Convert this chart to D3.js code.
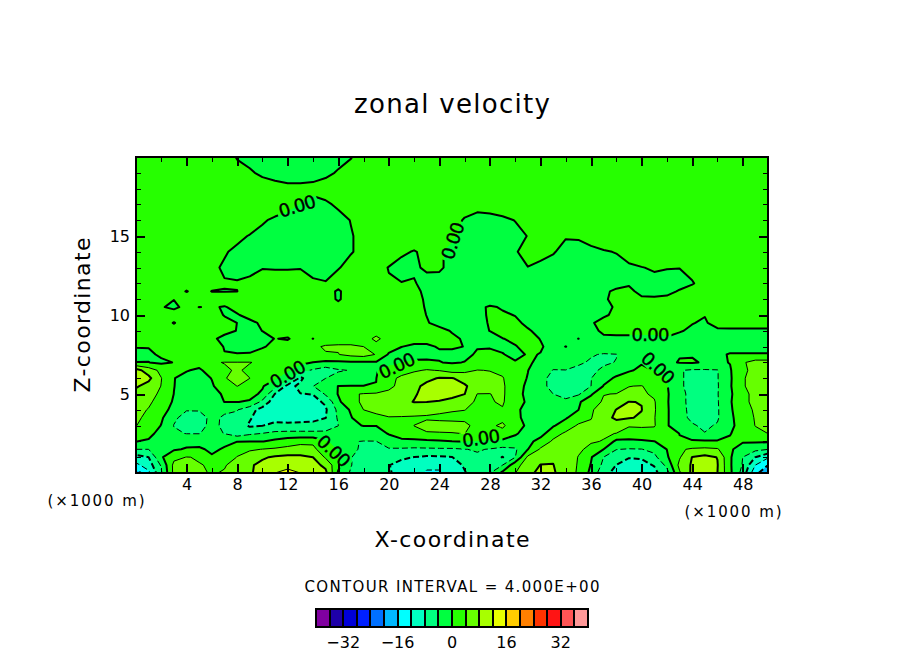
<![CDATA[<!DOCTYPE html>
<html>
<head>
<meta charset="utf-8">
<title>zonal velocity</title>
<script src="https://cdn.jsdelivr.net/npm/d3@7"></script>
<style>
  html, body { margin: 0; padding: 0; background: #fff; }
  text { font-family: "DejaVu Sans", sans-serif; fill: #000; }
</style>
</head>
<body>
<div id="chart"></div>
<script>
// x every 1 km, z levels listed top to bottom (finer below 12 km)
var xKm = d3.range(0, 51);
var zKm = [20,19,18,17,16,15,14,13,12,11.5,11,10.5,10,9.5,9,8.5,8,7.5,7,6.5,6,5.5,5,4.5,4,3.5,3,2.5,2,1.5,1,0.5,0];

// u values read off the picture, one row per entry of zKm
var uRows = [
[2,2,2,2,2,2,2,1.5,-.2,-1, -1.5,-1.5,-1.5,-1.5,-1.5,-1.5,-1,-.2,1.5,2, 2,2,2,2,2,2,2,2,2,2, 2,2,2,2,2,2,2,2,2,2, 2,2,2,2,2,2,2,2,2,2, 2],
[2,2,2,2,2,2,2,2,1,.4, -.6,-1,-1.2,-1.2,-1,-.7,.3,1.5,2,2, 2,2,2,2,2,2,2,2,2,2, 2,2,2,2,2,2,2,2,2,2, 2,2,2,2,2,2,2,2,2,2, 2],
[2,2,2,2,2,2,2,2,2,2, 1.6,1,.6,.6,.7,1.4,2,2,2,2, 2,2,2,2,2,2,2,2,2,2, 2,2,2,2,2,2,2,2,2,2, 2,2,2,2,2,2,2,2,2,2, 2],
[2,2,2,2,2,2,2,2,2,2, 2,2,.9,-.1,-.8,-.5,.5,1.5,2,2, 2,2,2,2,2,2,1,.7,.8,1.2, 1.8,2,2,2,2,2,2,2,2,2, 2,2,2,2,2,2,2,2,2,2, 2],
[2,2,2,2,2,2,2,2,2,2, .4,-.6,-1,-1.5,-1.5,-1.5,-1,.1,1.5,2, 2,2,2,2,2,.8,-.2,-.7,-.6,-.4, .05,1,2,2,2,2,2,2,2,2, 2,2,2,2,2,2,2,2,2,2, 2],
[2,2,2,2,2,2,2,2,.8,-.2, -1,-2,-2,-2,-2,-2,-1.4,-.2,.8,2, 2,2,2,2,2,.4,-.6,-1.5,-1.5,-1, -.5,.05,1,1,.2,.3,1,1.5,2,2, 2,2,2,2,2,2,2,2,2,2, 2],
[2,2,2,2,2,2,2,.3,-.7,-1.5, -2,-2,-2,-2,-2,-2,-1.4,-.2,.8,2, 1.5,.5,-.2,.7,.3,-.6,-1.2,-1.5,-1.2,-.8, -.2,.8,.8,.2,-.8,-.9,-.6,-.2,.1,.8, 2,2,2,2,2,2,2,2,2,2, 2],
[2,2,2,2,2,2,.6,-.4,-1,-.5, -.1,-.2,-.2,-.1,-1,-1.2,-.2,1,1.5,.9, -.1,-1,-.3,.3,.3,-.6,-1.5,-1.5,-1.5,-1.2, -.5,-.05,-.6,-1,-1.6,-1.6,-1.6,-1.6,-.8,-.3, -.1,.3,.1,.05,.6,1.5,2,2,2,2, 2],
[2,2,2,2,2,2,1.5,.2,.25,.4, 1,1.3,1.3,1,.5,.2,1.5,2,2,1.5, .2,.1,.15,-.65,-.8,-1.8,-1.8,-1.8,-1.8,-1.8, -1.8,-1.8,-1.8,-1.8,-1.8,-1.8,-1.6,-1,-.8,-.2, -.6,-.8,-.9,-.8,-.15,.8,2,2,2,2, 2],
[2,2,2,2,-.2,1.8,-.1,-.1,-.05,2, 2,2,2,2,1.8,1.5,-.5,1.8,2,2, 1.6,1.4,.55,-.5,-1.5,-1.8,-1.8,-1.8,-1.8,-1.8, -1.8,-1.8,-1.8,-1.8,-1.8,-1.8,-1.5,-.4,.4,.4, -.5,-.7,-.6,.2,.8,1.6,2,2,2,2, 2],
[2,2,2,.1,2,2,1.5,1.5,1.5,2, 2,2,2,2,2,1.8,-.5,2,2,2, 2,1.8,.7,-.3,-1.2,-2,-2,-2,-2,-2, -2,-2,-2,-2,-2,-1.8,-1.5,-.4,.8,1, .3,.3,.5,1,1.5,2,2,2,2,2, 2],
[2,2,.3,-.8,1.1,-.05,.3,-.2,.8,1.8, 2,2,2,2,2,2,1.5,2,2,2, 2,1.8,.8,-.2,-1,-1.8,-1.8,-.8,.4,-.3, -1.6,-2,-2,-2,-2,-2,-1.5,-.7,.3,1.2, 1.6,2,2,2,2,2,2,2,2,2, 2],
[2,2,2,2,2,2,1.6,-.2,-.2,.8, 2,2,2,2,2,2,2,2,2,2, 2,2,.95,-.05,-.8,-1.6,-1.6,-.7,.3,.4, -.1,-1.2,-2,-2,-2,-2,-1.5,-.4,.6,1.5, 2,2,2,1.5,.5,.1,1.2,2,2,2, 2],
[2,2,2,-.2,2,2,2,1,-.02,-.6, .4,1.5,2,2,2,2,2,2,2,2.5, 2,2,1,.2,-.8,-1.5,-1.5,-.8,.2,1, .6,-.6,-1.6,-2,-2,-2,-.3,.9,1.5,1.5, 2,2,1.6,.8,.1,-.3,1,1.5,1.5,1.5, 1.5],
[2,2,2,1.6,2,2,2,.9,-.1,-1, .05,.4,1.5,2,2,2.2,2.4,2.6,2.8,3, 2.6,2.2,1.4,1,.8,-.2,-1,-.8,.05,1.5, 1.5,.3,-.8,-1.8,-1.8,-1.6,-.6,.4,.5,.5, .5,.5,.6,.2,-.4,-.7,-.5,-.6,-.6,-.6, -.6],
[2,2,2,2,2,2,.6,-.9,-1.2,-1.2, -1,.1,-.3,1.7,-.05,2.4,3,3,3,4.5, 3,1.6,.8,.8,.7,.5,-.3,-.8,-1,-.1, .7,1,-.1,-1,-1.5,.03,-1.5,-.4,-.4,-.4, -.4,-.4,-.2,-.8,-1,-1,-1,-1,-1,-1, -1],
[.15,.15,1.5,2,2,2,1.3,-.15,-1.5,-1.5, -.3,.8,1.5,2,3.5,4.3,4.3,4.3,4,3.2, 1.5,.05,-.4,-.4,.2,.3,-.05,-.2,-.2,-.8, -.2,1,.3,-1,.05,-1.5,-1.5,-1.5,-1.5,-1.5, -1.5,-1.5,-1.5,-1.5,-1.5,-1.5,-1.5,-1.5,-1.5,-1.5, -1.5],
[-1,-.6,.5,2,2,2,1.5,.1,.3,.4, 1.2,2,3,3.2,3.6,3.8,3.9,5,5.5,3.8, -.4,-1,-1,-1,-.4,-.6,-.8,.4,.6,.2, -1,.3,-.1,-1.3,-1.5,-1.5,-3.7,-4.3,-4.1,-1.5, -1,-1,-1.2,-.2,-.2,-.8,-.8,.3,.3,.3, .3],
[.05,.05,-.6,.1,1.5,1.2,3.7,4.1,4.1,4.1, 3.5,2.8,2,1,-.1,-.8,-.6,-.5,-.5,-.3, -.8,-.1,.5,.6,.1,-.3,.1,1,1.5,1, .3,.6,-1,-1.8,-1.8,-3.5,-4.4,-4.4,-3.9,-2, -.2,-.8,-.8,.2,.3,-.3,-.5,.1,3.5,5.5, 5.5],
[9.5,6,3,1,.2,-.5,1.5,3.6,4.3,3.5, 2.2,1.5,.5,-2.5,-4.5,-6,-4.4,-3.8,-2.5,-.2, 1.2,2,3.5,4.3,3.8,2.5,3,4.1,3.9,3, 2,.05,-1.2,-4.2,-4.1,-4.8,-4.6,-3.5,-1.5,-.3, .5,-.1,-1,-3.8,-4.4,-4.4,-4.2,-.3,3,5.5, 5.8],
[10.5,9,4.1,.1,-1,-1.2,.1,3.9,4.5,4.02, 1.5,.5,-2,-9,-4.5,-4.05,-2.5,-1.5,-1,-.05, 2.5,5,6,7,8.3,8.2,6.5,5.5,4.8,4.3, .9,-.1,-3.5,-4.5,-5,-5.5,-4.1,-1.2,.5,1.5, 2,1,-.1,-3.5,-5,-5.5,-4.2,-.5,3.5,6, 6.5],
[8.5,6.5,3.9,.1,-1.8,-1.8,-.3,1.5,4.05,3, .3,-2.5,-9.5,-7,-4.1,-1.5,.05,.05,.05,.05, 3.2,5,7,9,10,10,8.5,6,5,4.5, 1.8,-.8,-3.7,-4.3,-5,-5.2,-4,.2,1.5,3.95, 4.1,3,.3,-3.5,-5,-5.5,-4.3,-.4,3.5,6, 6.5],
[6.5,5.5,3.2,-.05,-2,-2.2,-1,.4,.6,.9, -.5,-8.2,-10.5,-8.1,-7.9,-3.5,.2,3.6,4.2,4.5, 4.8,6,7.5,9.5,11,9,8.05,3.95,3.95,4.6, 1.2,-.8,-3,-4,-4.3,-4.5,-.6,3.9,4.1,4.5, 4.5,3.5,.5,-3,-5,-5.5,-4.2,-.6,2.8,5.2, 5.5],
[5.5,4.6,2.5,-.5,-2.5,-3,-1.5,.05,.05,-.3, -5,-10.5,-11,-10.5,-9,-7.5,-.8,3,4.5,5, 5.5,6.5,8.2,8,7.5,7,5,3.6,3.8,4.3, 2,-.7,-2.5,-3.5,-3.8,-.6,2.5,4.4,6,8.1, 7.9,4.3,.4,-3,-5,-5.4,-4.3,-.4,3,5, 5.3],
[5,3.8,1.8,-1.5,-3.85,-3.85,-2.5,-3.6,-3.8,-6.5, -9.5,-10.5,-11,-10.5,-10,-8.5,-3,.5,4,4.3, 4.4,4.6,4.8,4.5,4.3,4.1,4.02,3.7,3.5,3.8, .6,-.9,-2,-2.5,-2.2,-.05,3.6,5.5,8.1,9, 8.1,4.4,.5,-3,-4.8,-5.3,-4.4,-.5,2.2,4.6, 5],
[4.6,3.2,.6,-3.5,-5,-4.8,-3.5,-4.3,-5,-7.5, -10.5,-10,-10.5,-10,-9.5,-8.1,-3.5,-.3,3,3.7, 3.95,3.9,3.8,3.8,3.7,3.7,3.7,3.5,3.2,3.2, .8,-1,-1.5,-1.3,-.4,2.2,3.8,6.8,8.6,8.3, 7.5,4.2,.5,-3,-4.6,-5,-4.4,-.7,1.8,4.3, 4.7],
[4.1,2.5,-.15,-4.1,-5.2,-5,-3.2,-4.6,-5.5,-8.6, -8.1,-6.5,-6.5,-6.5,-6.5,-6,-4.05,-.5,.1,.05, 1.2,2,4.01,4.5,4.5,4.4,4.3,3.6,3.5,4.5, 2,-.8,-.9,-.4,2,4.5,4.7,5,6.5,4.2, 4.3,4.3,.4,-2.5,-3.7,-4.5,-3.7,-.8,1.5,4.1, 4.4],
[2.5,1.2,-1.5,-3.5,-4.1,-4.1,-3,-4.1,-6,-4.6, -3.9,-3.2,-3,-3,-3,-3.1,-2.5,-2,-2,-1.2, .2,1.5,3.8,3.85,3.9,3.95,4.02,3.3,2.5,3, .3,-1,-1.5,2.5,4.6,5,5,4.5,3.9,3, 3,2.5,1.5,-.05,-2.5,-3.9,-2.8,-.1,1,3, 4.02],
[.05,-.5,-2,-1.5,-1,-1,-1.5,-.7,-.1,-.1, -.1,1,2.2,3,3,.4,-1,-3.8,-4.1,-4.1, -1.5,-.8,-1.4,-.8,-.5,-.1,.1,-.1,-.5,-1, -1,-1.2,1.5,4.6,5.5,5,4.4,3.8,-1,-1.2, -.6,-.05,1,.2,.5,.5,.4,.3,.3,.5, .5],
[-4,-4,-1,-.4,.3,.4,-.5,.3,3,3.5, 4.1,4.5,5,5.5,5.2,1,-.2,-3,-4.8,-4.8, -4.4,-4.5,-4.6,-4.6,-4.5,-4.5,-4.1,-3.7,-4.2,-5, -4.6,-.1,4.5,6,6,4.8,2.8,-.05,-3.9,-4.2, -4.1,-3,.05,3.5,4.5,4.8,4.4,.5,-1.5,-3, -3.9],
[-9.5,-8,-.5,3,4.1,3.8,.3,2,4.1,6, 7.5,8.5,9,8.8,8,3.5,.4,-3.8,-6,-6.5, -7,-7.5,-8.05,-8.6,-8.5,-8.1,-6,-4.5,-5.5,-8.2, -4.1,4.8,6.5,7.5,7,3.8,.3,-4.05,-6,-7.8, -7.7,-5,-.5,3.6,8.1,9,7.9,.5,-4,-8, -11.5],
[-13,-10,-3.5,5,4.5,4.1,3.8,3.9,4.5,7.5, 9,11,11.5,11,9.5,7,1,-3.8,-6.5,-7, -7.9,-9,-10.5,-11.5,-11.5,-10,-7.5,-5.5,-5,-4, 2.5,6,8.1,8.1,6,3.7,-.2,-5,-8.1,-9.5, -9,-7.8,-3,5,8.5,10,8.2,.5,-4.3,-12, -16],
[-18,-13,-4.5,5,4.8,4.2,3.9,4.1,5,7.5, 9.5,12,12.5,12,9,9,-.5,-4.5,-6.5,-7.5, -7.7,-9,-11,-12.3,-12.3,-10.5,-8.3,-6,-4.2,1, 3.9,7,9,8.5,6,3.5,-1,-7,-9,-10.5, -11,-9,-5.5,3.5,8.8,11,8,.8,-5.5,-15, -19]
];

// contour levels and the fill for the band starting at each level
var levels = d3.range(-40, 40, 4);
var bandColors = ["#8000a0","#1e00a8","#0000d8","#0020ff","#0070ff","#00b8ff","#00ffff","#00ffc0","#00ff80","#00ff40",
                  "#26ff00","#66ff00","#a8ff00","#e8ff00","#ffcc00","#ff8000","#ff3300","#ff1414","#ff5555","#ff9999"];

var xMajor = d3.range(4, 50, 4);
var xMinor = d3.range(2, 50, 4);
var zMajor = [5, 10, 15];
var zMinor = d3.range(1, 20).filter(function(d) { return d % 5 !== 0; });
var barTicks = [-32, -16, 0, 16, 32];

// contour label placement, in axis units with the angle of the text
var contourLabels = [
  { text: "0.00", x: 12.75, z: 16.9, angle: -17 },
  { text: "0.00", x: 25.05, z: 14.7, angle: -72 },
  { text: "0.00", x: 12.0, z: 6.25, angle: -30 },
  { text: "0.00", x: 20.65, z: 6.8, angle: -25 },
  { text: "0.00", x: 15.65, z: 1.4, angle: 43 },
  { text: "0.00", x: 27.3, z: 2.2, angle: -8 },
  { text: "0.00", x: 40.7, z: 8.75, angle: 0 },
  { text: "0.00", x: 41.3, z: 6.65, angle: 43 }
];

var width = 904, height = 654;

var svg = d3.select("#chart").append("svg")
  .attr("width", width)
  .attr("height", height)
  .style("display", "block");

var x = d3.scaleLinear().domain([0, 50]).range([136, 768]);
var z = d3.scaleLinear().domain([0, 20]).range([473, 157]);

// d3.contours works in cell units, values sit at cell centres
var colToKm = d3.scaleLinear().domain([0.5, xKm.length - 0.5]).range([0, 50]).clamp(true);
var rowToKm = d3.scaleLinear()
  .domain(zKm.map(function(d, i) { return i + 0.5; }))
  .range(zKm)
  .clamp(true);

var contours = d3.contours()
  .size([xKm.length, zKm.length])
  .thresholds(levels)(d3.merge(uRows));

var project = d3.geoTransform({
  point: function(px, py) {
    this.stream.point(x(colToKm(px)), z(rowToKm(py)));
  }
});
var path = d3.geoPath(project);

var defs = svg.append("defs");
defs.append("clipPath").attr("id", "plot-clip").append("rect")
  .attr("x", x(0)).attr("y", z(20))
  .attr("width", x(50) - x(0)).attr("height", z(0) - z(20));

// the lines break under the contour labels, the fills do not
var mask = defs.append("mask").attr("id", "label-gaps").attr("maskUnits", "userSpaceOnUse")
  .attr("x", 0).attr("y", 0).attr("width", width).attr("height", height);
mask.append("rect").attr("width", width).attr("height", height).attr("fill", "#fff");
mask.selectAll("rect.gap").data(contourLabels).enter().append("rect")
  .attr("class", "gap")
  .attr("x", -21).attr("y", -8).attr("width", 42).attr("height", 16)
  .attr("fill", "#000")
  .attr("transform", function(d) {
    return "translate(" + x(d.x) + "," + z(d.z) + ") rotate(" + d.angle + ")";
  });

var plot = svg.append("g").attr("clip-path", "url(#plot-clip)");

plot.append("rect")
  .attr("x", x(0)).attr("y", z(20))
  .attr("width", x(50) - x(0)).attr("height", z(0) - z(20))
  .attr("fill", bandColors[0]);

plot.append("g").selectAll("path").data(contours).enter().append("path")
  .attr("d", path)
  .attr("fill", function(d, i) { return bandColors[i]; })
  .attr("shape-rendering", "crispEdges");

function isThick(v) { return v % 8 === 0; }

plot.append("g").attr("mask", "url(#label-gaps)")
  .selectAll("path").data(contours).enter().append("path")
  .attr("d", path)
  .attr("fill", "none")
  .attr("stroke", "#000")
  .attr("stroke-width", function(d) { return isThick(d.value) ? 2 : 1; })
  .attr("stroke-dasharray", function(d) { return d.value < 0 ? "6,3" : null; })
  .attr("stroke-linejoin", "round");

svg.append("g").selectAll("text").data(contourLabels).enter().append("text")
  .attr("transform", function(d) {
    return "translate(" + x(d.x) + "," + z(d.z) + ") rotate(" + d.angle + ")";
  })
  .attr("text-anchor", "middle")
  .attr("dy", "0.36em")
  .attr("font-size", 18)
  .attr("stroke", "#000")
  .attr("stroke-width", 0.4)
  .attr("textLength", 38)
  .text(function(d) { return d.text; });

// ticks point inward on all four sides
function addAxis(axis, tx, ty, len, values, labels) {
  var g = svg.append("g")
    .attr("transform", "translate(" + tx + "," + ty + ")")
    .call(axis.tickValues(values).tickSize(len).tickSizeOuter(0).tickPadding(6)
      .tickFormat(d3.format("d")));
  g.select(".domain").remove();
  g.selectAll("line").attr("stroke", "#000").attr("stroke-width", len === -9 ? 2 : 1)
    .attr("shape-rendering", "crispEdges");
  if (labels) g.selectAll("text").attr("font-size", 16);
  else g.selectAll("text").remove();
  return g;
}

addAxis(d3.axisBottom(x), 0, z(0), -9, xMajor, true);
addAxis(d3.axisBottom(x), 0, z(0), -5, xMinor, false);
addAxis(d3.axisTop(x), 0, z(20), -9, xMajor, false);
addAxis(d3.axisTop(x), 0, z(20), -5, xMinor, false);
addAxis(d3.axisLeft(z), x(0), 0, -9, zMajor, true);
addAxis(d3.axisLeft(z), x(0), 0, -5, zMinor, false);
addAxis(d3.axisRight(z), x(50), 0, -9, zMajor, false);
addAxis(d3.axisRight(z), x(50), 0, -5, zMinor, false);

svg.append("rect")
  .attr("x", x(0)).attr("y", z(20))
  .attr("width", x(50) - x(0)).attr("height", z(0) - z(20))
  .attr("fill", "none")
  .attr("stroke", "#000")
  .attr("stroke-width", 2)
  .attr("shape-rendering", "crispEdges");

function addText(str, tx, ty, size, len, rot) {
  return svg.append("text")
    .attr("transform", "translate(" + tx + "," + ty + ")" + (rot ? " rotate(" + rot + ")" : ""))
    .attr("text-anchor", "middle")
    .attr("font-size", size)
    .attr("textLength", len)
    .text(str);
}

addText("zonal velocity", 452, 113, 26, 196);
addText("X-coordinate", 452, 547, 22, 155);
addText("Z-coordinate", 90, 315, 22, 155, -90);
addText("(×1000 m)", 96, 506, 15, 97);
addText("(×1000 m)", 733, 517, 15, 97);
addText("CONTOUR INTERVAL = 4.000E+00", 452, 592, 15, 295);

// colour bar
var bar = d3.scaleLinear().domain([-40, 40]).range([316, 588]);
var barG = svg.append("g");
barG.selectAll("rect").data(levels).enter().append("rect")
  .attr("x", function(d) { return bar(d); })
  .attr("y", 609)
  .attr("width", function(d) { return bar(d + 4) - bar(d); })
  .attr("height", 18)
  .attr("fill", function(d, i) { return bandColors[i]; })
  .attr("stroke", "#000")
  .attr("stroke-width", 2)
  .attr("shape-rendering", "crispEdges");

barG.selectAll("text").data(barTicks).enter().append("text")
  .attr("x", function(d) { return bar(d); })
  .attr("y", 648)
  .attr("text-anchor", "middle")
  .attr("font-size", 16)
  .text(function(d) { return d < 0 ? "\u2212" + (-d) : d; });
</script>
</body>
</html>
]]>
